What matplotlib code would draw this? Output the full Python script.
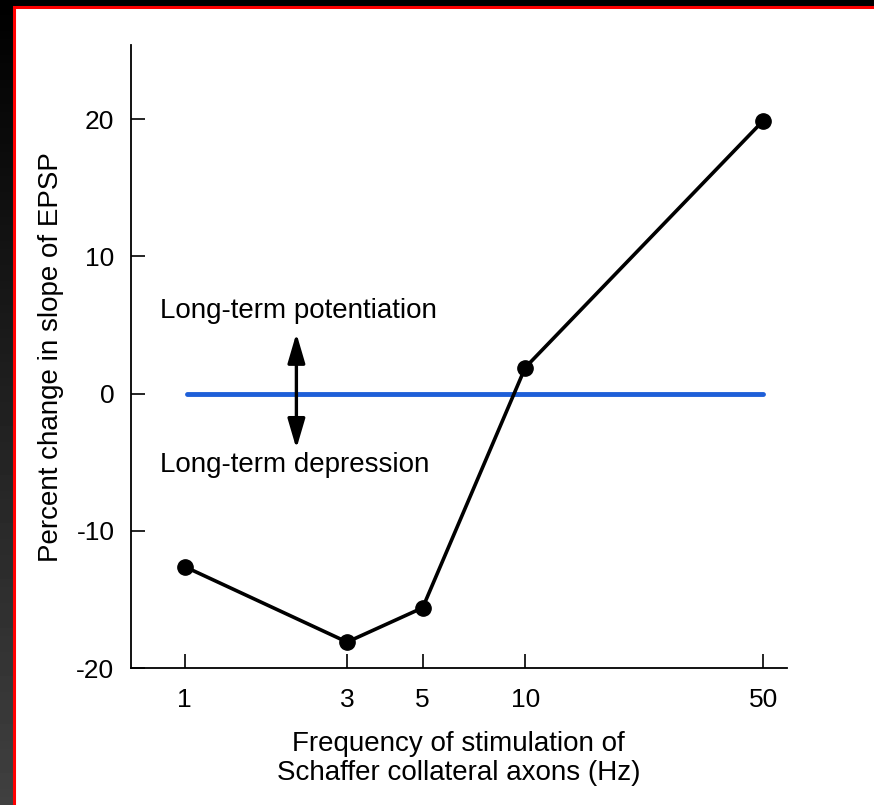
import numpy as np
import matplotlib
matplotlib.use("Agg")
import matplotlib.pyplot as plt
from matplotlib.patches import Rectangle

# frequency of stimulation (Hz) and percent change in EPSP slope
freq = [1, 3, 5, 10, 50]
change = [-12.6, -18.1, -15.6, 1.9, 19.9]
x_ticks = [1, 3, 5, 10, 50]
y_ticks = [-20, -10, 0, 10, 20]
baseline_x = [1.02, 50]
baseline_y = [0, 0]

plt.rcParams['font.family'] = ['Liberation Sans', 'DejaVu Sans']
plt.rcParams['axes.unicode_minus'] = False

fig = plt.figure(figsize=(8.74, 8.05), dpi=100)
fig.patch.set_facecolor('black')

# dark frame with a gradient on the left, red edge, white page
grad = np.linspace(0, 0.25, 100).reshape(-1, 1)
bg = fig.add_axes([0, 0, 1, 1], zorder=-10)
bg.imshow(grad, cmap='gray', vmin=0, vmax=1, aspect='auto',
          extent=[0, 1, 0, 1], origin='upper')
bg.add_patch(Rectangle((14 / 874, -0.05), 1.1, 1.05 - 7 / 805, facecolor='white',
                       edgecolor='#ff0000', linewidth=2.2))
bg.set_xlim(0, 1)
bg.set_ylim(0, 1)
bg.axis('off')

ax = fig.add_axes([0.150, 0.170, 0.750, 0.774])
ax.patch.set_alpha(0)
ax.set_xscale('log')
ax.set_xlim(0.697, 58.5)
ax.set_ylim(-20, 25.4)

ax.plot(baseline_x, baseline_y, color='#1e5fd8', linewidth=3.5, solid_capstyle='round')
ax.plot(freq, change, color='black', linewidth=2.6, marker='o', markersize=11,
        markerfacecolor='black', zorder=5)

ax.annotate('', xy=(2.13, 4.4), xytext=(2.13, -4.0),
            arrowprops=dict(arrowstyle='<|-|>,head_length=0.75,head_width=0.22',
                            color='black', lw=2.4,
                            mutation_scale=24, shrinkA=0, shrinkB=0))
ax.text(0.85, 6.0, 'Long-term potentiation', fontsize=20, va='center', ha='left')
ax.text(0.85, -5.2, 'Long-term depression', fontsize=20, va='center', ha='left')

ax.set_xticks(x_ticks)
ax.set_xticklabels([str(v) for v in x_ticks])
ax.xaxis.set_minor_locator(matplotlib.ticker.NullLocator())
ax.set_yticks(y_ticks)
ax.tick_params(direction='in', length=10, width=1.2, labelsize=19, pad=14)
ax.tick_params(axis='y', pad=12)

for side in ['top', 'right']:
    ax.spines[side].set_visible(False)
for side in ['left', 'bottom']:
    ax.spines[side].set_linewidth(1.3)

ax.set_xlabel('Frequency of stimulation of\nSchaffer collateral axons (Hz)',
              fontsize=20, labelpad=14, linespacing=1.15)
ax.set_ylabel('Percent change in slope of EPSP', fontsize=20, labelpad=9)

fig.savefig('out.png', dpi=100)
